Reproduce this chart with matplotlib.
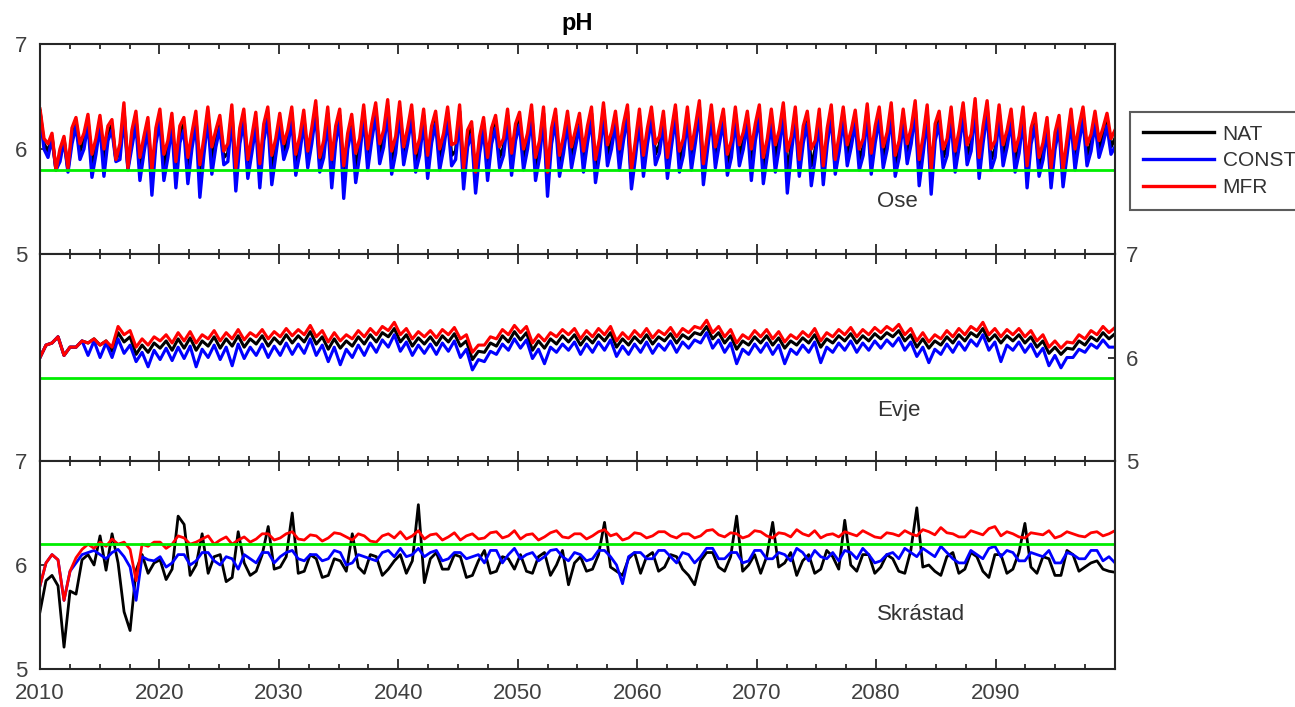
import numpy as np
import matplotlib
matplotlib.use("Agg")
import matplotlib.pyplot as plt
from matplotlib.ticker import MultipleLocator

plt.rcParams['font.family'] = ['Liberation Sans', 'DejaVu Sans']

# values, years 2010..2099
# Ose: three readings a year (winter high, spring dip, autumn)
ose_nat_hi = [6.36, 6.12, 6.10, 6.26, 6.28, 6.27, 6.23, 6.38, 6.30, 6.25,
              6.32, 6.28, 6.24, 6.30, 6.34, 6.26, 6.36, 6.32, 6.29, 6.34,
              6.28, 6.34, 6.31, 6.40, 6.34, 6.32, 6.27, 6.36, 6.38, 6.41,
              6.39, 6.36, 6.32, 6.30, 6.34, 6.36, 6.20, 6.24, 6.26, 6.32,
              6.29, 6.36, 6.34, 6.32, 6.30, 6.28, 6.34, 6.38, 6.30, 6.36,
              6.32, 6.34, 6.30, 6.36, 6.34, 6.40, 6.36, 6.32, 6.34, 6.30,
              6.36, 6.32, 6.38, 6.34, 6.30, 6.32, 6.36, 6.34, 6.31, 6.37,
              6.34, 6.38, 6.32, 6.40, 6.36, 6.30, 6.34, 6.38, 6.42, 6.40,
              6.36, 6.32, 6.34, 6.28, 6.24, 6.26, 6.32, 6.34, 6.30, 6.28]
ose_nat_lo = [6.05, 5.80, 5.80, 5.98, 5.85, 5.88, 5.90, 5.82, 5.82, 5.70,
              5.84, 5.76, 5.80, 5.72, 5.90, 5.92, 5.72, 5.82, 5.76, 5.82,
              5.98, 5.86, 5.90, 5.86, 5.78, 5.70, 5.82, 5.90, 5.96, 5.88,
              5.94, 5.88, 5.84, 5.90, 5.94, 5.72, 5.68, 5.82, 5.92, 5.86,
              5.90, 5.82, 5.68, 5.84, 5.92, 5.88, 5.80, 5.94, 5.90, 5.72,
              5.84, 5.95, 5.82, 5.88, 5.90, 5.76, 5.92, 5.86, 5.94, 5.86,
              5.80, 5.92, 5.78, 5.82, 5.84, 5.76, 5.82, 5.94, 5.90, 5.86,
              5.92, 5.84, 5.96, 5.78, 5.70, 5.92, 5.88, 5.94, 5.82, 5.90,
              5.94, 5.88, 5.74, 5.84, 5.74, 5.72, 5.90, 5.94, 6.00, 6.02]
ose_nat_au = [5.98, 5.94, 6.12, 6.08, 6.02, 6.15, 5.98, 6.10, 6.04, 6.12,
              6.00, 6.14, 6.08, 6.02, 6.10, 5.96, 6.12, 6.04, 6.16, 6.02,
              6.10, 6.04, 6.12, 6.00, 6.14, 6.08, 6.02, 6.16, 6.10, 6.04,
              6.12, 6.02, 6.14, 6.08, 5.98, 6.10, 6.04, 6.12, 6.02, 6.16,
              6.08, 6.00, 6.12, 6.04, 6.10, 6.14, 6.02, 6.08, 6.16, 6.00,
              6.12, 6.04, 6.10, 6.02, 6.14, 6.06, 6.12, 6.00, 6.08, 6.16,
              6.02, 6.10, 6.04, 6.14, 6.00, 6.12, 6.06, 6.10, 6.02, 6.14,
              6.08, 6.00, 6.12, 6.04, 6.16, 6.02, 6.10, 6.06, 6.14, 6.00,
              6.10, 6.04, 6.12, 5.98, 6.08, 6.02, 6.14, 6.06, 6.12, 6.10]
ose_const_hi = [6.35, 6.10, 6.08, 6.22, 6.24, 6.22, 6.18, 6.30, 6.24, 6.20,
                6.26, 6.22, 6.18, 6.24, 6.28, 6.20, 6.30, 6.26, 6.22, 6.28,
                6.22, 6.28, 6.25, 6.34, 6.28, 6.26, 6.20, 6.30, 6.32, 6.35,
                6.33, 6.30, 6.26, 6.24, 6.28, 6.30, 6.14, 6.18, 6.20, 6.26,
                6.23, 6.30, 6.28, 6.26, 6.24, 6.22, 6.28, 6.32, 6.24, 6.30,
                6.26, 6.28, 6.24, 6.30, 6.28, 6.34, 6.30, 6.26, 6.28, 6.24,
                6.30, 6.26, 6.32, 6.28, 6.24, 6.26, 6.30, 6.28, 6.25, 6.31,
                6.28, 6.32, 6.26, 6.34, 6.30, 6.24, 6.28, 6.32, 6.36, 6.34,
                6.30, 6.26, 6.28, 6.22, 6.18, 6.20, 6.26, 6.28, 6.24, 6.22]
ose_const_lo = [6.00, 5.80, 5.78, 5.90, 5.73, 5.74, 5.88, 5.80, 5.70, 5.56,
                5.70, 5.63, 5.67, 5.54, 5.76, 5.85, 5.60, 5.72, 5.63, 5.66,
                5.90, 5.75, 5.82, 5.78, 5.63, 5.53, 5.68, 5.80, 5.86, 5.76,
                5.85, 5.78, 5.72, 5.80, 5.84, 5.62, 5.58, 5.70, 5.82, 5.75,
                5.80, 5.70, 5.55, 5.74, 5.82, 5.78, 5.68, 5.84, 5.80, 5.62,
                5.74, 5.85, 5.72, 5.78, 5.80, 5.66, 5.82, 5.75, 5.84, 5.70,
                5.67, 5.78, 5.58, 5.74, 5.65, 5.66, 5.76, 5.84, 5.80, 5.76,
                5.82, 5.74, 5.86, 5.65, 5.57, 5.82, 5.78, 5.85, 5.72, 5.80,
                5.84, 5.78, 5.63, 5.74, 5.63, 5.64, 5.80, 5.84, 5.92, 5.95]
ose_const_au = [5.92, 5.88, 6.05, 6.00, 5.95, 6.08, 5.90, 6.02, 5.96, 6.05,
                5.92, 6.06, 6.00, 5.94, 6.02, 5.88, 6.05, 5.96, 6.08, 5.94,
                6.02, 5.96, 6.05, 5.92, 6.06, 6.00, 5.94, 6.08, 6.02, 5.96,
                6.05, 5.94, 6.06, 6.00, 5.90, 6.02, 5.96, 6.05, 5.94, 6.08,
                6.00, 5.92, 6.05, 5.96, 6.02, 6.06, 5.94, 6.00, 6.08, 5.92,
                6.05, 5.96, 6.02, 5.94, 6.06, 5.98, 6.05, 5.92, 6.00, 6.08,
                5.94, 6.02, 5.96, 6.06, 5.92, 6.05, 5.98, 6.02, 5.94, 6.06,
                6.00, 5.92, 6.05, 5.96, 6.08, 5.94, 6.02, 5.98, 6.06, 5.92,
                6.02, 5.96, 6.05, 5.90, 6.00, 5.94, 6.06, 5.98, 6.05, 6.02]
ose_mfr_hi = [6.38, 6.15, 6.12, 6.30, 6.33, 6.32, 6.28, 6.44, 6.36, 6.30,
              6.38, 6.34, 6.30, 6.36, 6.40, 6.32, 6.42, 6.38, 6.35, 6.40,
              6.34, 6.40, 6.37, 6.46, 6.40, 6.38, 6.33, 6.42, 6.44, 6.47,
              6.45, 6.42, 6.38, 6.36, 6.40, 6.42, 6.26, 6.30, 6.32, 6.38,
              6.35, 6.42, 6.40, 6.38, 6.36, 6.34, 6.40, 6.44, 6.36, 6.42,
              6.38, 6.40, 6.36, 6.42, 6.40, 6.46, 6.42, 6.38, 6.40, 6.36,
              6.42, 6.38, 6.44, 6.40, 6.36, 6.38, 6.42, 6.40, 6.37, 6.43,
              6.40, 6.44, 6.38, 6.46, 6.42, 6.36, 6.40, 6.44, 6.48, 6.46,
              6.42, 6.38, 6.40, 6.34, 6.30, 6.32, 6.38, 6.40, 6.36, 6.34]
ose_mfr_lo = [6.10, 5.80, 5.82, 6.05, 5.95, 6.00, 5.90, 5.82, 5.92, 5.80,
              5.95, 5.88, 5.92, 5.85, 6.02, 5.98, 5.82, 5.90, 5.86, 5.94,
              6.05, 5.95, 5.98, 5.92, 5.90, 5.84, 5.96, 6.00, 6.05, 5.98,
              6.02, 5.96, 5.94, 6.00, 6.04, 5.82, 5.78, 5.92, 6.02, 5.96,
              6.00, 5.92, 5.78, 5.94, 6.02, 5.98, 5.90, 6.04, 6.00, 5.80,
              5.94, 6.05, 5.92, 5.98, 6.00, 5.86, 6.02, 5.95, 6.04, 6.00,
              5.92, 6.04, 5.98, 5.90, 6.00, 5.84, 5.90, 6.04, 6.00, 5.96,
              6.02, 5.94, 6.05, 5.90, 5.80, 6.00, 5.98, 6.04, 5.92, 6.00,
              6.04, 5.98, 5.84, 5.92, 5.82, 5.80, 6.00, 6.04, 6.08, 6.10]
ose_mfr_au = [6.05, 6.00, 6.20, 6.15, 6.10, 6.22, 6.05, 6.18, 6.12, 6.20,
              6.08, 6.22, 6.15, 6.10, 6.18, 6.05, 6.20, 6.12, 6.24, 6.10,
              6.18, 6.12, 6.20, 6.08, 6.22, 6.15, 6.10, 6.24, 6.18, 6.12,
              6.20, 6.10, 6.22, 6.15, 6.06, 6.18, 6.12, 6.20, 6.10, 6.24,
              6.15, 6.08, 6.20, 6.12, 6.18, 6.22, 6.10, 6.16, 6.24, 6.08,
              6.20, 6.12, 6.18, 6.10, 6.22, 6.14, 6.20, 6.08, 6.16, 6.24,
              6.10, 6.18, 6.12, 6.22, 6.08, 6.20, 6.14, 6.18, 6.10, 6.22,
              6.16, 6.08, 6.20, 6.12, 6.24, 6.10, 6.18, 6.14, 6.22, 6.08,
              6.18, 6.12, 6.20, 6.06, 6.16, 6.10, 6.22, 6.14, 6.20, 6.18]

# Evje: winter low then summer high
evje_nat_lo = [6.00, 6.14, 6.02, 6.10, 6.14, 6.12, 6.06, 6.15, 6.03, 6.05,
               6.09, 6.07, 6.09, 6.07, 6.11, 6.09, 6.11, 6.10, 6.13, 6.11,
               6.13, 6.14, 6.15, 6.13, 6.08, 6.09, 6.11, 6.13, 6.15, 6.20,
               6.15, 6.11, 6.13, 6.12, 6.15, 6.11, 5.98, 6.05, 6.11, 6.15,
               6.17, 6.07, 6.09, 6.13, 6.15, 6.12, 6.14, 6.16, 6.10, 6.12,
               6.14, 6.13, 6.16, 6.14, 6.18, 6.22, 6.18, 6.14, 6.08, 6.12,
               6.14, 6.12, 6.09, 6.12, 6.14, 6.10, 6.14, 6.16, 6.14, 6.16,
               6.18, 6.20, 6.16, 6.10, 6.09, 6.12, 6.14, 6.16, 6.20, 6.16,
               6.14, 6.16, 6.14, 6.10, 6.04, 6.03, 6.08, 6.12, 6.16, 6.18]
evje_nat_hi = [6.12, 6.20, 6.10, 6.16, 6.18, 6.16, 6.24, 6.20, 6.12, 6.14,
               6.16, 6.18, 6.19, 6.16, 6.20, 6.18, 6.21, 6.18, 6.21, 6.19,
               6.22, 6.21, 6.25, 6.20, 6.18, 6.16, 6.20, 6.22, 6.24, 6.28,
               6.22, 6.19, 6.20, 6.21, 6.23, 6.16, 6.06, 6.14, 6.21, 6.25,
               6.24, 6.16, 6.18, 6.21, 6.22, 6.20, 6.22, 6.24, 6.18, 6.20,
               6.22, 6.20, 6.23, 6.22, 6.24, 6.30, 6.24, 6.21, 6.16, 6.20,
               6.21, 6.19, 6.16, 6.19, 6.22, 6.18, 6.21, 6.23, 6.21, 6.23,
               6.24, 6.26, 6.22, 6.18, 6.16, 6.20, 6.22, 6.24, 6.28, 6.22,
               6.21, 6.22, 6.20, 6.16, 6.10, 6.09, 6.16, 6.20, 6.24, 6.23]
evje_const_lo = [6.00, 6.14, 6.02, 6.10, 6.02, 6.00, 6.00, 6.04, 5.96, 5.91,
                 5.98, 5.97, 5.99, 5.91, 6.00, 5.98, 5.92, 5.99, 6.02, 6.00,
                 6.02, 6.03, 6.04, 6.02, 5.96, 5.93, 6.00, 6.02, 6.05, 6.10,
                 6.06, 6.02, 6.04, 6.03, 6.06, 6.00, 5.88, 5.96, 6.03, 6.07,
                 6.09, 5.99, 5.94, 6.05, 6.07, 6.03, 6.05, 6.07, 6.01, 6.03,
                 6.05, 6.04, 6.07, 6.05, 6.09, 6.14, 6.09, 6.05, 5.94, 6.03,
                 6.05, 6.03, 5.94, 6.03, 6.05, 5.95, 6.05, 6.07, 6.05, 6.07,
                 6.09, 6.11, 6.07, 6.01, 5.95, 6.03, 6.05, 6.07, 6.11, 6.07,
                 5.96, 6.07, 6.05, 6.01, 5.92, 5.90, 6.00, 6.05, 6.09, 6.10]
evje_const_hi = [6.12, 6.20, 6.10, 6.16, 6.16, 6.14, 6.18, 6.12, 6.05, 6.07,
                 6.09, 6.10, 6.11, 6.08, 6.12, 6.10, 6.13, 6.10, 6.13, 6.11,
                 6.14, 6.13, 6.18, 6.12, 6.10, 6.08, 6.12, 6.14, 6.17, 6.22,
                 6.15, 6.12, 6.13, 6.14, 6.16, 6.08, 5.98, 6.06, 6.13, 6.18,
                 6.17, 6.08, 6.10, 6.13, 6.15, 6.13, 6.15, 6.17, 6.11, 6.13,
                 6.15, 6.13, 6.16, 6.15, 6.17, 6.24, 6.17, 6.14, 6.08, 6.13,
                 6.14, 6.12, 6.08, 6.12, 6.15, 6.10, 6.14, 6.16, 6.14, 6.16,
                 6.17, 6.19, 6.15, 6.10, 6.08, 6.13, 6.15, 6.17, 6.22, 6.15,
                 6.12, 6.15, 6.13, 6.09, 6.02, 6.00, 6.08, 6.13, 6.17, 6.10]
evje_mfr_lo = [6.00, 6.14, 6.02, 6.10, 6.14, 6.12, 6.10, 6.22, 6.10, 6.12,
               6.16, 6.14, 6.16, 6.14, 6.18, 6.16, 6.18, 6.17, 6.20, 6.18,
               6.20, 6.21, 6.22, 6.20, 6.15, 6.16, 6.18, 6.20, 6.22, 6.26,
               6.22, 6.18, 6.20, 6.19, 6.22, 6.18, 6.05, 6.12, 6.18, 6.22,
               6.24, 6.14, 6.16, 6.20, 6.22, 6.18, 6.20, 6.22, 6.16, 6.18,
               6.20, 6.19, 6.22, 6.20, 6.24, 6.28, 6.24, 6.20, 6.14, 6.18,
               6.20, 6.18, 6.15, 6.18, 6.20, 6.16, 6.20, 6.22, 6.20, 6.22,
               6.24, 6.26, 6.22, 6.16, 6.15, 6.18, 6.20, 6.22, 6.26, 6.22,
               6.20, 6.22, 6.20, 6.16, 6.10, 6.09, 6.14, 6.18, 6.22, 6.24]
evje_mfr_hi = [6.12, 6.20, 6.10, 6.16, 6.18, 6.16, 6.30, 6.26, 6.18, 6.20,
               6.22, 6.24, 6.25, 6.22, 6.26, 6.24, 6.27, 6.24, 6.27, 6.25,
               6.28, 6.27, 6.31, 6.26, 6.24, 6.22, 6.26, 6.28, 6.30, 6.34,
               6.28, 6.25, 6.26, 6.27, 6.29, 6.22, 6.12, 6.20, 6.27, 6.31,
               6.30, 6.22, 6.24, 6.27, 6.28, 6.26, 6.28, 6.30, 6.24, 6.26,
               6.28, 6.26, 6.29, 6.28, 6.30, 6.36, 6.30, 6.27, 6.22, 6.26,
               6.27, 6.25, 6.22, 6.25, 6.28, 6.24, 6.27, 6.29, 6.27, 6.29,
               6.30, 6.32, 6.28, 6.24, 6.22, 6.26, 6.28, 6.30, 6.34, 6.28,
               6.27, 6.28, 6.26, 6.22, 6.16, 6.15, 6.22, 6.26, 6.30, 6.29]

# Skrastad: start of year, mid year
skr_nat_a = [5.55, 5.90, 5.21, 5.72, 6.10, 6.28, 6.30, 5.55, 5.95, 5.92,
             6.05, 5.96, 6.39, 6.00, 5.92, 6.10, 5.88, 6.02, 5.94, 6.37,
             5.98, 6.50, 5.94, 6.06, 5.90, 6.04, 6.30, 5.92, 6.08, 5.96,
             6.10, 6.04, 5.83, 6.12, 5.96, 6.08, 5.90, 6.14, 5.94, 6.06,
             6.10, 5.92, 6.12, 6.00, 5.81, 6.08, 5.96, 6.41, 5.94, 6.06,
             5.92, 6.12, 5.98, 6.08, 5.90, 6.04, 6.12, 5.94, 6.47, 6.00,
             5.92, 6.41, 6.02, 5.90, 6.10, 5.96, 6.08, 6.43, 5.94, 6.10,
             5.98, 6.06, 5.92, 6.55, 6.00, 5.90, 6.12, 5.96, 6.08, 5.88,
             6.10, 5.96, 6.40, 5.92, 6.06, 5.90, 6.10, 5.98, 6.04, 5.94]
skr_nat_b = [5.85, 5.80, 5.75, 6.05, 6.00, 5.95, 6.02, 5.37, 6.10, 6.02,
             5.86, 6.47, 5.90, 6.30, 6.08, 5.84, 6.32, 5.90, 6.10, 5.96,
             6.08, 5.92, 6.10, 5.88, 6.06, 5.94, 5.98, 6.10, 5.90, 6.04,
             5.92, 6.58, 6.06, 5.96, 6.10, 5.88, 6.04, 5.92, 6.08, 5.96,
             5.94, 6.08, 5.90, 6.14, 6.02, 5.94, 6.10, 5.98, 5.90, 6.12,
             6.08, 5.94, 6.10, 5.96, 5.81, 6.12, 5.98, 6.08, 5.94, 6.10,
             6.08, 5.98, 6.12, 6.04, 5.92, 6.14, 5.96, 6.00, 6.10, 5.92,
             6.10, 5.94, 6.14, 5.98, 5.94, 6.08, 5.92, 6.12, 5.94, 6.10,
             5.92, 6.12, 5.98, 6.08, 5.90, 6.14, 5.94, 6.02, 5.96, 5.93]
skr_const_a = [5.80, 6.10, 5.66, 6.02, 6.12, 6.10, 6.12, 6.08, 5.66, 6.05,
               6.08, 6.02, 6.10, 6.04, 6.12, 6.00, 6.06, 6.10, 6.02, 6.12,
               6.08, 6.14, 6.04, 6.10, 6.06, 6.12, 6.02, 6.08, 6.04, 6.14,
               6.16, 6.10, 6.08, 6.14, 6.06, 6.12, 6.08, 6.02, 6.14, 6.10,
               6.06, 6.12, 6.08, 6.15, 6.04, 6.10, 6.06, 6.14, 6.00, 6.08,
               6.12, 6.06, 6.14, 6.02, 6.10, 6.08, 6.16, 6.06, 6.12, 6.04,
               6.14, 6.06, 6.10, 6.16, 6.04, 6.08, 6.12, 6.14, 6.06, 6.10,
               6.04, 6.12, 6.16, 6.08, 6.12, 6.18, 6.06, 6.02, 6.10, 6.16,
               6.08, 6.12, 6.04, 6.10, 6.14, 6.02, 6.10, 6.06, 6.14, 6.08]
skr_const_b = [6.02, 6.05, 5.94, 6.10, 6.14, 6.06, 6.15, 5.98, 6.08, 6.04,
               5.98, 6.10, 6.00, 6.12, 6.04, 6.08, 5.96, 6.06, 6.12, 6.02,
               6.12, 6.06, 6.10, 6.04, 6.14, 6.00, 6.10, 6.06, 6.12, 6.08,
               6.08, 6.16, 6.12, 6.04, 6.12, 6.06, 6.10, 6.14, 6.02, 6.16,
               6.10, 6.04, 6.14, 6.08, 6.12, 6.04, 6.14, 6.08, 5.82, 6.12,
               6.06, 6.14, 6.08, 6.12, 6.02, 6.16, 6.06, 6.12, 6.02, 6.14,
               6.06, 6.12, 6.04, 6.12, 6.14, 6.06, 6.04, 6.12, 6.16, 6.02,
               6.10, 6.06, 6.12, 6.16, 6.08, 6.12, 6.02, 6.14, 6.06, 6.18,
               6.14, 6.04, 6.12, 6.08, 6.02, 6.12, 6.06, 6.14, 6.04, 6.02]
skr_mfr_a = [5.80, 6.10, 5.66, 6.07, 6.20, 6.22, 6.25, 6.22, 5.85, 6.18,
             6.22, 6.20, 6.26, 6.22, 6.28, 6.24, 6.20, 6.27, 6.25, 6.30,
             6.26, 6.32, 6.24, 6.28, 6.26, 6.30, 6.24, 6.28, 6.22, 6.30,
             6.32, 6.28, 6.25, 6.30, 6.27, 6.24, 6.30, 6.26, 6.32, 6.28,
             6.25, 6.30, 6.27, 6.33, 6.26, 6.30, 6.28, 6.34, 6.30, 6.26,
             6.30, 6.28, 6.32, 6.26, 6.30, 6.28, 6.34, 6.27, 6.30, 6.28,
             6.32, 6.26, 6.30, 6.34, 6.28, 6.26, 6.30, 6.32, 6.28, 6.30,
             6.26, 6.30, 6.33, 6.28, 6.32, 6.36, 6.30, 6.27, 6.31, 6.35,
             6.28, 6.30, 6.26, 6.30, 6.33, 6.28, 6.30, 6.27, 6.32, 6.30]
skr_mfr_b = [6.02, 6.05, 5.94, 6.15, 6.16, 6.18, 6.20, 6.15, 6.20, 6.22,
             6.16, 6.28, 6.20, 6.25, 6.20, 6.27, 6.24, 6.22, 6.30, 6.24,
             6.30, 6.25, 6.29, 6.23, 6.31, 6.27, 6.30, 6.23, 6.28, 6.26,
             6.25, 6.33, 6.29, 6.24, 6.31, 6.28, 6.25, 6.31, 6.26, 6.33,
             6.29, 6.24, 6.31, 6.27, 6.30, 6.25, 6.32, 6.28, 6.24, 6.31,
             6.26, 6.32, 6.28, 6.30, 6.26, 6.33, 6.29, 6.31, 6.26, 6.33,
             6.28, 6.31, 6.27, 6.30, 6.33, 6.29, 6.27, 6.30, 6.33, 6.27,
             6.31, 6.28, 6.30, 6.34, 6.29, 6.31, 6.27, 6.33, 6.29, 6.37,
             6.32, 6.27, 6.31, 6.29, 6.26, 6.32, 6.28, 6.31, 6.28, 6.33]

sites = ['Ose', 'Evje', 'Skrástad']
thresholds = [5.8, 5.8, 6.2]
series_names = ['NAT', 'CONST', 'MFR']
series_colors = ['black', 'blue', 'red']

panels = [
    [(ose_nat_hi, ose_nat_lo, ose_nat_au), (ose_const_hi, ose_const_lo, ose_const_au),
     (ose_mfr_hi, ose_mfr_lo, ose_mfr_au)],
    [(evje_nat_lo, evje_nat_hi), (evje_const_lo, evje_const_hi), (evje_mfr_lo, evje_mfr_hi)],
    [(skr_nat_a, skr_nat_b), (skr_const_a, skr_const_b), (skr_mfr_a, skr_mfr_b)],
]
line_widths = [2.4, 2.2, 2.0]
label_y = [0.248, 0.246, 0.26]

W, H = 1295, 707
fig = plt.figure(figsize=(W / 100, H / 100), dpi=100)
edges = [44, 254, 461, 669]
left, right = 40 / W, 1115 / W

tick_col = '#404040'
axis_col = '#262626'
axes = []
for i in range(3):
    bottom = 1 - edges[i + 1] / H
    height = (edges[i + 1] - edges[i]) / H
    ax = fig.add_axes([left, bottom, right - left, height])
    handles = []
    for cols, name, col in zip(panels[i], series_names, series_colors):
        y = np.column_stack(cols).ravel()
        t = np.linspace(2010, 2100, len(y))
        h, = ax.plot(t, y, color=col, lw=line_widths[i], label=name)
        handles.append(h)
    ax.axhline(thresholds[i], color='#00ee00', lw=2.0)
    ax.set_xlim(2010, 2100)
    ax.set_ylim(5, 7)
    ax.set_yticks([5, 6, 7])
    ax.xaxis.set_major_locator(MultipleLocator(10))
    ax.xaxis.set_minor_locator(MultipleLocator(2.5))
    ax.tick_params(axis='x', which='major', direction='in', top=True, bottom=True,
                   length=7, width=1.3, color=axis_col, labelsize=16,
                   labelcolor=tick_col, pad=10)
    ax.tick_params(axis='x', which='minor', direction='in', top=True, bottom=True,
                   length=3.5, width=1.3, color=axis_col)
    if i == 1:
        ax.yaxis.tick_right()
        ax.tick_params(axis='y', which='both', direction='in', left=False, right=True,
                       length=5, width=1.3, color=axis_col, labelsize=16,
                       labelcolor=tick_col, pad=8)
    else:
        ax.tick_params(axis='y', which='both', direction='in', left=True, right=False,
                       length=5, width=1.3, color=axis_col, labelsize=16,
                       labelcolor=tick_col, pad=9)
    if i < 2:
        ax.tick_params(axis='x', labelbottom=False)
    else:
        ax.set_xticks(range(2010, 2100, 10))
    for s in ax.spines.values():
        s.set_color(axis_col)
        s.set_linewidth(1.5)
    ax.text(0.7786, label_y[i], sites[i], transform=ax.transAxes,
            ha='left', va='center', fontsize=16, color='#333333')
    axes.append(ax)
    if i == 0:
        legend_handles = handles

axes[0].set_title('pH', fontsize=17, fontweight='bold', pad=10)

leg = fig.legend(legend_handles, series_names, loc='upper left',
                 bbox_to_anchor=(1130 / W, 1 - 112 / H), borderaxespad=0,
                 fontsize=15, frameon=True, fancybox=False, handlelength=3.45,
                 handletextpad=0.4, labelspacing=0.38, borderpad=0.6,
                 labelcolor='#333333')
leg.get_frame().set_edgecolor('#333333')
leg.get_frame().set_linewidth(1.5)

fig.savefig('out.png', dpi=100)
